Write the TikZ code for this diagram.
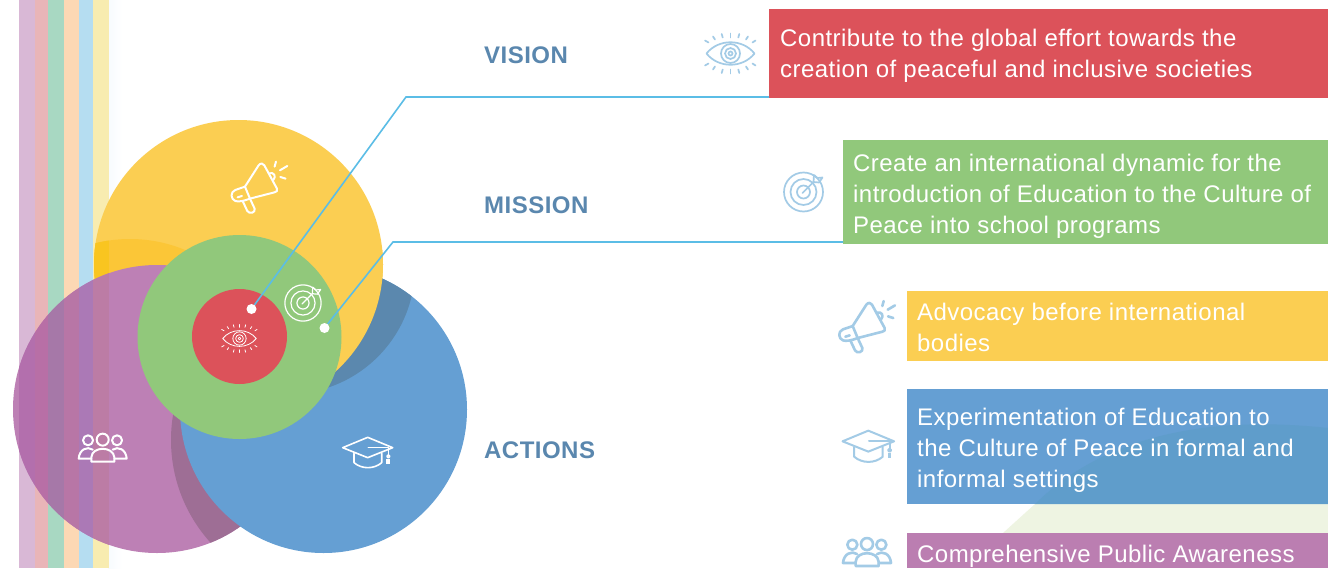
\documentclass[tikz,border=0pt]{standalone}
\usepackage{fontspec}
\setmainfont{Liberation Sans}
\definecolor{cyellow}{HTML}{FBCE52}
\definecolor{cyellowd}{HTML}{FBC637}
\definecolor{cyellowe}{HTML}{F9C520}
\definecolor{cpurple}{HTML}{BD80B5}
\definecolor{cpurpleb}{HTML}{BB7EB1}
\definecolor{cpurpled}{HTML}{9E6E95}
\definecolor{cblue}{HTML}{659FD3}
\definecolor{cbluee}{HTML}{5F9DCB}
\definecolor{cblued}{HTML}{5B88AE}
\definecolor{cgreen}{HTML}{91C87B}
\definecolor{cred}{HTML}{DC525A}
\definecolor{ctitle}{HTML}{5A87AE}
\definecolor{cline}{HTML}{5BBDE6}
\definecolor{cicon}{HTML}{A3CBE6}
\definecolor{cpale}{HTML}{EEF4E2}
\definecolor{cfaint}{HTML}{F7FBFE}
\tikzset{
  x=1pt,y=-1pt,
  box/.style={anchor=north west,inner sep=0pt,text=white,align=left,
    font=\fontsize{24}{31}\selectfont,execute at begin node={\addfontfeatures{LetterSpace=1.9}}},
  title/.style={anchor=base west,inner sep=0pt,text=ctitle,font=\fontsize{24}{28}\selectfont\bfseries,
    execute at begin node={\addfontfeatures{LetterSpace=2.0}}},
  dot/.style={circle,fill=white,inner sep=0pt,minimum size=10pt},
  wire/.style={draw=cline,line width=1.6pt},
  iconw/.style={draw=white,line width=1.2pt,line cap=round,line join=round},
  iconb/.style={draw=cicon,line width=1.7pt,line cap=round,line join=round},
  pics/eyeicon/.style={code={
    \draw[pic actions] (-24,0) .. controls (-12,-15) and (12,-15) .. (24,0) .. controls (12,15) and (-12,15) .. (-24,0) -- cycle;
    \draw[pic actions] (0,0) circle (9.5pt);
    \draw[pic actions] (0,0) circle (5.5pt);
    \draw[pic actions] (0,0) circle (2pt);
    \foreach \a/\b/\c/\d in {-25.5/-13/-22/-11,-17.5/-17/-15.5/-14,-8.8/-19.5/-7.8/-16,0/-20/0/-16,8.8/-19.5/7.8/-16,17.5/-17/15.5/-14,25/-13/22/-11,
      -25.5/12/-22/10,-17.5/16/-15.5/13,-8.8/19.5/-7.8/16,0/20/0/16,8.8/19.5/7.8/16,17.5/16/15.5/13,25/12/22/10}
      \draw[pic actions] (\a,\b) -- (\c,\d);
  }},
  pics/targeticon/.style={code={
    \draw[pic actions] (0,0) circle (19.5pt);
    \draw[pic actions] (0,0) circle (13pt);
    \draw[pic actions] (0,0) circle (6.5pt);
    \draw[pic actions] (-1,1) -- (10,-10);
    \draw[pic actions] (10,-10) -- (10.5,-17) -- (14,-14) -- (19,-14.5) -- (15.5,-9.5) -- cycle;
  }},
  pics/megaphone/.style={code={
    \begin{scope}[x=0.3333pt,y=-0.3333pt,shift={(-385,-175)}]
    \draw[pic actions] (345,170) -- (386,106) .. controls (392,98) and (400,100) .. (403,106) -- (441,176) .. controls (444,182) and (440,186) .. (434,187) -- (360,206);
    \draw[pic actions] (345,170) -- (316,180) .. controls (300,186) and (302,208) .. (316,213) .. controls (325,216) and (340,214) .. (360,206) -- cycle;
    \draw[pic actions] (323,202) -- (336,198);
    \draw[pic actions] (338,213) -- (352,243) .. controls (358,254) and (378,248) .. (374,236) -- (360,206);
    \draw[pic actions] (418,130) .. controls (432,125) and (440,140) .. (430,150);
    \draw[pic actions] (434,110) -- (438,95);
    \draw[pic actions] (450,121) -- (472,108);
    \draw[pic actions] (451,141) -- (467,146);
    \end{scope}
  }},
  pics/capicon/.style={code={
    \begin{scope}[x=0.3333pt,y=-0.3333pt,shift={(-1103,-210)}]
    \draw[pic actions] (1103,172) -- (1178,203) -- (1103,233) -- (1028,203) -- cycle;
    \draw[pic actions] (1062,220) -- (1062,248) .. controls (1085,268) and (1122,268) .. (1145,248) -- (1145,220);
    \draw[pic actions] (1105,203) -- (1165,203) -- (1165,224);
    \draw[pic actions] (1165,229) circle (1.5pt);
    \draw[pic actions,line width=3.8pt,line cap=butt] (1165,236) -- (1165,252);
    \end{scope}
  }},
  pics/peopleicon/.style={code={
    \begin{scope}[x=0.3333pt,y=-0.3333pt,shift={(-308,-205)}]
    \draw[pic actions] (264,181) circle (5pt);
    \draw[pic actions] (308,179) circle (6pt);
    \draw[pic actions] (351,181) circle (5pt);
    \draw[pic actions] (274,245) -- (274,232) .. controls (276,198) and (340,198) .. (343,232) -- (343,245) -- cycle;
    \draw[pic actions] (278,209) .. controls (262,198) and (238,208) .. (236,236) -- (274,236);
    \draw[pic actions] (338,209) .. controls (354,198) and (378,208) .. (380,236) -- (343,236);
    \end{scope}
  }},
}
\begin{document}
\begin{tikzpicture}
\useasboundingbox (0,0) rectangle (1328,568);
\fill[white] (0,0) rectangle (1328,568);
% rainbow stripes
\shade[left color=cfaint,right color=white] (108,0) rectangle (122,568);
\fill[fill={rgb,255:red,217;green,184;blue,214}] (19,0) rectangle (35.3,568);
\fill[fill={rgb,255:red,233;green,181;blue,184}] (35.3,0) rectangle (48,568);
\fill[fill={rgb,255:red,168;green,216;blue,194}] (48,0) rectangle (63.7,568);
\fill[fill={rgb,255:red,252;green,216;blue,180}] (63.7,0) rectangle (79.3,568);
\fill[fill={rgb,255:red,181;green,221;blue,241}] (79.3,0) rectangle (92.7,568);
\fill[fill={rgb,255:red,248;green,236;blue,176}] (92.7,0) rectangle (108.7,568);
% yellow disc with its darker part
\fill[cyellow] (238.5,264.5) circle (144.5pt);
\begin{scope}
  \clip (238.5,264.5) circle (144.5pt);
  \clip (130,382) circle (143pt);
  \fill[cyellowd] (80,220) rectangle (300,300);
  \fill[cyellowe] (80,220) rectangle (108.7,300);
\end{scope}
% purple disc with stripes seen through it
\fill[cpurple] (157,409) circle (144pt);
\begin{scope}
  \clip (157,409) circle (144pt);
  \fill[fill={rgb,255:red,179;green,111;blue,173}] (19,0) rectangle (35.3,568);
  \fill[fill={rgb,255:red,184;green,111;blue,166}] (35.3,0) rectangle (48,568);
  \fill[fill={rgb,255:red,166;green,120;blue,168}] (48,0) rectangle (63.7,568);
  \fill[fill={rgb,255:red,184;green,118;blue,166}] (63.7,0) rectangle (79.3,568);
  \fill[fill={rgb,255:red,171;green,121;blue,182}] (79.3,0) rectangle (92.7,568);
  \fill[fill={rgb,255:red,188;green,124;blue,165}] (92.7,0) rectangle (108.7,568);
  \fill[cpurpled] (324,440) circle (153pt);
\end{scope}
% blue disc
\fill[cblue] (323.5,409.5) circle (143.5pt);
\begin{scope}
  \clip (323.5,409.5) circle (143.5pt);
  \fill[cblued] (288,267) circle (127pt);
\end{scope}
% the yellow disc lies over the blue one
\begin{scope}
  \clip (245,250) rectangle (400,420);
  \fill[cyellow] (238.5,264.5) circle (144.5pt);
\end{scope}
% green and red discs
\fill[cgreen] (239.5,337) circle (102pt);
\fill[cred] (239.5,336.5) circle (47.5pt);
% pale shape behind the boxes
\fill[cpale] (1003,533) -- (1035,504) -- (1328,504) -- (1328,533) -- cycle;
% boxes
\fill[cred] (769,9) rectangle (1328,97.5);
\fill[cgreen] (843,140) rectangle (1328,243.5);
\fill[cyellow] (907,291) rectangle (1328,361);
\fill[cblue] (907,389) rectangle (1328,504);
\fill[cpurpleb] (907,533) rectangle (1328,568);
\begin{scope}
  \clip (907,389) rectangle (1328,504);
  \fill[cbluee] (1035,504) .. controls (1090,450) and (1180,412) .. (1328,428) -- (1328,504) -- cycle;
\end{scope}
% box text
\node[box] (tvision) at (780,29) {Contribute to the global effort towards the\\creation of peaceful and inclusive societies};
\node[box] (tmission) at (853,154) {Create an international dynamic for the\\introduction of Education to the Culture of\\Peace into school programs};
\node[box] (tadv) at (917,303) {Advocacy before international\\bodies};
\node[box] (texp) at (917,408) {Experimentation of Education to\\the Culture of Peace in formal and\\informal settings};
\node[box] (tcom) at (917,545) {Comprehensive Public Awareness};
% titles
\node[title] (lvision) at (484,63) {VISION};
\node[title] (lmission) at (484,213) {MISSION};
\node[title] (lactions) at (484,458) {ACTIONS};
% connectors
\node[dot] (dv) at (251.5,309) {};
\node[dot] (dm) at (324.5,328) {};
\coordinate (kv) at (406,97);
\coordinate (ev) at (769,97);
\coordinate (km) at (393,242);
\coordinate (em) at (843,242);
\draw[wire] (dv) -- (kv) -- (ev);
\draw[wire] (dm) -- (km) -- (em);
% icons on discs
\pic[iconw,scale=0.7,line width=0.8pt] at (239.5,338.5) {eyeicon};
\pic[iconw,scale=0.93] at (303,303) {targeticon};
\pic[iconw,line width=2pt] at (258.3,188.3) {megaphone};
\pic[iconw,line width=1.6pt] at (367.7,450) {capicon};
\pic[iconw,line width=2pt] at (102.7,448.3) {peopleicon};
% icons beside boxes
\pic[iconb] at (730.5,53.5) {eyeicon};
\pic[iconb] at (803.5,192) {targeticon};
\pic[iconb,line width=2.6pt] at (866,327.7) {megaphone};
\pic[iconb,scale=1.03,line width=2pt] at (868.3,443.7) {capicon};
\pic[iconb,line width=2.6pt] at (867,552.7) {peopleicon};
\end{tikzpicture}
\end{document}
